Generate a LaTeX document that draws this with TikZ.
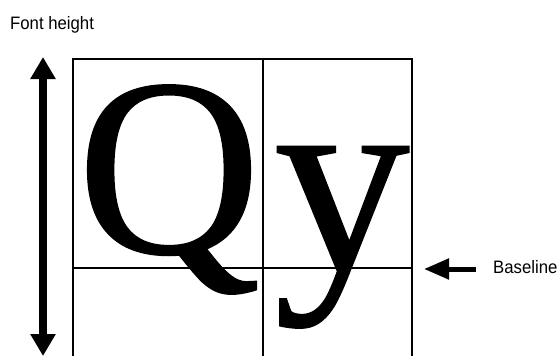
\documentclass[tikz,border=0pt]{standalone}
\usepackage{fontspec}
\setmainfont{Liberation Serif}
\newfontfamily\glyphfont[FakeBold=0.6]{Liberation Serif}
\newfontfamily\labelfont{Liberation Sans}
\usetikzlibrary{arrows.meta}
\begin{document}
\begin{tikzpicture}[x=1pt,y=-1pt,
  gridline/.style={line width=2.6pt, line cap=rect},
  labeltext/.style={font=\labelfont\fontsize{18}{18}\selectfont, inner sep=0pt, xscale=0.93},
  glyph/.style={font=\glyphfont\fontsize{254}{254}\selectfont, inner sep=0pt, anchor=base},
  bigarrow/.style={line width=8pt, {Triangle[length=22pt,width=24pt]}-{Triangle[length=22pt,width=24pt]}},
  basearrow/.style={line width=5pt, -{Triangle[length=25pt,width=20pt]}}]
\useasboundingbox (0,0) rectangle (560,356);
% grid
\coordinate (tl) at (73,59);
\coordinate (tm) at (263,59);
\coordinate (tr) at (412,59);
\coordinate (bl) at (73,357);
\coordinate (bm) at (263,357);
\coordinate (br) at (412,357);
\coordinate (ml) at (73,268);
\coordinate (mr) at (412,268);
% letters
\node[glyph] (Q) at (169,253) {Q};
\node[glyph, xscale=1.07, yscale=1.06] (y) at (342,270) {y};
\draw[gridline] (bl) -- (tl) -- (tr) -- (br);
\draw[gridline] (tm) -- (bm);
\draw[gridline] (ml) -- (mr);
% font height arrow
\coordinate (fhtop) at (43,57);
\coordinate (fhbot) at (43,356);
\draw[bigarrow] (fhtop) -- (fhbot);
\node[labeltext, anchor=base west] (fh) at (10,30) {Font height};
% baseline arrow
\node[labeltext, anchor=base west] (bl) at (493,273) {Baseline};
\coordinate (bastart) at (476,269);
\coordinate (baend) at (424,269);
\draw[basearrow] (bastart) -- (baend);
\end{tikzpicture}
\end{document}
